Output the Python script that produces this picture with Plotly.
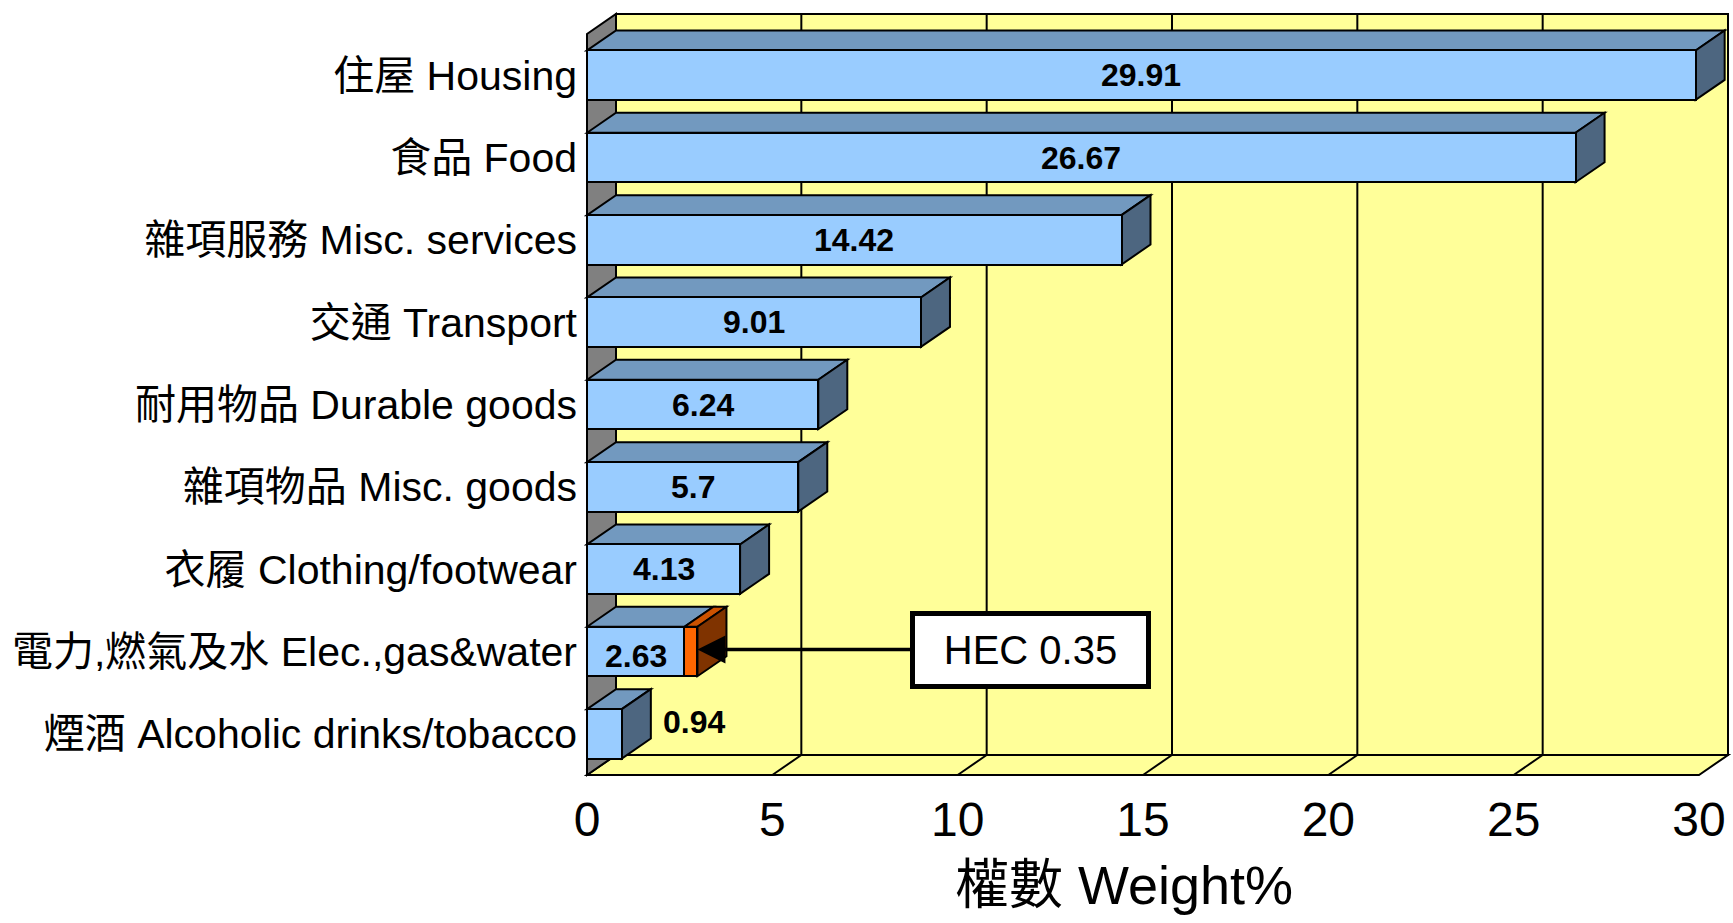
import plotly.graph_objects as go

# ---------------- data ----------------
categories = ["住屋 Housing", "食品 Food", "雜項服務 Misc. services", "交通 Transport",
              "耐用物品 Durable goods", "雜項物品 Misc. goods", "衣履 Clothing/footwear",
              "電力,燃氣及水 Elec.,gas&water", "煙酒 Alcoholic drinks/tobacco"]
weights = [29.91, 26.67, 14.42, 9.01, 6.24, 5.7, 4.13, 2.63, 0.94]
hec_extra = [0, 0, 0, 0, 0, 0, 0, 0.35, 0]
hec_name = "HEC"
x_ticks = [0, 5, 10, 15, 20, 25, 30]
x_max = 30
axis_title = "權數 Weight%"

# ---------------- style / layout ----------------
W, H = 1733, 923
FRONT_L, FRONT_R = 587, 1699      # pixel of x=0 and x=x_max on the front plane
FRONT_TOP, FLOOR_Y = 34, 775      # pixel of top / bottom of the front plane
OFF_X, OFF_Y = 29, 20             # 3D depth offset in pixels
PAD = 3
n = len(categories)
ppx = (FRONT_R - FRONT_L) / x_max
ppy = (FLOOR_Y - FRONT_TOP) / n
DX, DY = OFF_X / ppx, OFF_Y / ppy
BAR_W = 0.6
HW = BAR_W / 2

FONT = "Liberation Sans, Arial, Noto Sans CJK TC, sans-serif"
C_FRONT, C_TOP, C_SIDE = "#99CCFF", "#7299BF", "#4D6680"
C_OR_FRONT, C_OR_TOP, C_OR_SIDE = "#FF6600", "#CC5200", "#7F3300"
C_WALL, C_LEFT = "#FFFF99", "#808080"
LINE = dict(color="black", width=2)

ypos = [n - 1 - i for i in range(n)]
y_lo, y_hi = -0.5, n - 0.5


def poly(pts):
    return "M " + " L ".join(f"{x},{y}" for x, y in pts) + " Z"


shapes = []
# back wall
shapes.append(dict(type="rect", xref="x", yref="y", x0=DX, x1=x_max + DX,
                   y0=y_lo + DY, y1=y_hi + DY, fillcolor=C_WALL, line=LINE, layer="below"))
# back wall gridlines
for t in x_ticks[1:-1]:
    shapes.append(dict(type="line", xref="x", yref="y", x0=t + DX, x1=t + DX,
                       y0=y_lo + DY, y1=y_hi + DY, line=LINE, layer="below"))
# floor
shapes.append(dict(type="path", xref="x", yref="y",
                   path=poly([(0, y_lo), (x_max, y_lo), (x_max + DX, y_lo + DY), (DX, y_lo + DY)]),
                   fillcolor=C_WALL, line=LINE, layer="below"))
for t in x_ticks[1:-1]:
    shapes.append(dict(type="line", xref="x", yref="y", x0=t, x1=t + DX,
                       y0=y_lo, y1=y_lo + DY, line=LINE, layer="below"))
# left wall
shapes.append(dict(type="path", xref="x", yref="y",
                   path=poly([(0, y_lo), (DX, y_lo + DY), (DX, y_hi + DY), (0, y_hi)]),
                   fillcolor=C_LEFT, line=LINE, layer="below"))

# 3D faces of bars
for y, v, e in zip(ypos, weights, hec_extra):
    top = y + HW
    shapes.append(dict(type="path", xref="x", yref="y",
                       path=poly([(0, top), (v, top), (v + DX, top + DY), (DX, top + DY)]),
                       fillcolor=C_TOP, line=LINE, layer="below"))
    end = v + e
    if e:
        shapes.append(dict(type="path", xref="x", yref="y",
                           path=poly([(v, top), (end, top), (end + DX, top + DY), (v + DX, top + DY)]),
                           fillcolor=C_OR_TOP, line=LINE, layer="below"))
    shapes.append(dict(type="path", xref="x", yref="y",
                       path=poly([(end, y - HW), (end, top), (end + DX, top + DY), (end + DX, y - HW + DY)]),
                       fillcolor=C_OR_SIDE if e else C_SIDE, line=LINE, layer="below"))

fig = go.Figure()
fig.add_trace(go.Bar(y=ypos, x=weights, orientation="h", width=BAR_W,
                     marker=dict(color=C_FRONT, line=LINE), hoverinfo="skip"))
fig.add_trace(go.Bar(y=ypos, x=[e if e else None for e in hec_extra], orientation="h", width=BAR_W,
                     marker=dict(color=C_OR_FRONT, line=LINE), hoverinfo="skip"))

annotations = []
for y, v in zip(ypos, weights):
    if v >= 2:
        annotations.append(dict(x=v / 2, y=y, xref="x", yref="y", text=f"<b>{v:g}</b>",
                                showarrow=False, font=dict(family=FONT, size=32, color="black"),
                                yshift=-4 if v < 3 else 0))
    else:
        annotations.append(dict(x=v + DX, y=y, xref="x", yref="y", text=f"<b>{v:g}</b>",
                                showarrow=False, xanchor="left", xshift=10, yshift=12,
                                font=dict(family=FONT, size=32, color="black")))

# HEC callout
for y, v, e in zip(ypos, weights, hec_extra):
    if e:
        annotations.append(dict(x=v + e, y=y, xref="x", yref="y", text=f"{hec_name} {e:g}",
                                showarrow=True, ax=333, ay=0, axref="pixel", ayref="pixel",
                                arrowhead=2, arrowwidth=3.5, arrowsize=1.6, arrowcolor="black",
                                bgcolor="white", bordercolor="black", borderwidth=5, borderpad=0,
                                width=231, height=68, yshift=2,
                                font=dict(family=FONT, size=40, color="black")))

# axis title (placed slightly left of the front-plane centre, as in the source)
plot_w = (FRONT_R + OFF_X + PAD) - (FRONT_L - PAD)
annotations.append(dict(x=((FRONT_L + FRONT_R) / 2 - 19 - (FRONT_L - PAD)) / plot_w, xref="paper",
                        y=0, yref="paper", text=axis_title, showarrow=False,
                        yanchor="top", yshift=-(853 - FLOOR_Y - PAD),
                        font=dict(family=FONT, size=54, color="black")))

fig.update_layout(
    width=W, height=H,
    margin=dict(l=FRONT_L - PAD, r=W - (FRONT_R + OFF_X + PAD), t=FRONT_TOP - OFF_Y - PAD,
                b=H - FLOOR_Y - PAD, pad=0, autoexpand=False),
    barmode="stack", bargap=0.4, showlegend=False,
    plot_bgcolor="white", paper_bgcolor="white",
    shapes=shapes, annotations=annotations,
    font=dict(family=FONT, color="black"),
    xaxis=dict(range=[-PAD / ppx, x_max + (OFF_X + PAD) / ppx], tickvals=x_ticks,
               showgrid=False, zeroline=False, showline=False, ticks="",
               tickfont=dict(size=48, family=FONT, color="black"), ticklabelstandoff=9),
    yaxis=dict(range=[y_lo - PAD / ppy, y_hi + (OFF_Y + PAD) / ppy], tickvals=ypos,
               ticktext=categories, showgrid=False, zeroline=False, showline=False, ticks="",
               tickfont=dict(size=41, family=FONT, color="black"), ticklabelstandoff=6),
)

fig.write_html("out.html")
